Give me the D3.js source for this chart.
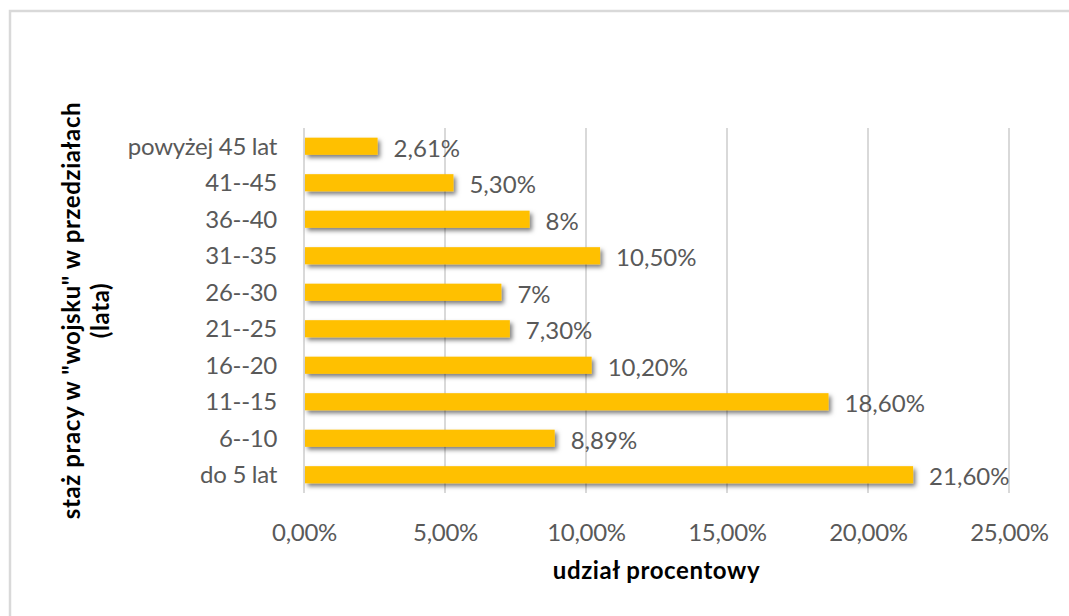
<!DOCTYPE html>
<html>
<head>
<meta charset="utf-8">
<script src="https://cdn.jsdelivr.net/npm/d3@7"></script>
<style>
  html, body { margin: 0; padding: 0; background: #fff; }
  svg { display: block; font-family: Lato, "Open Sans", sans-serif; }
</style>
</head>
<body>
<svg id="chart" width="1069" height="616"></svg>
<script>
// Seniority brackets (top to bottom) and their percentage share
const categories = ["powyżej 45 lat", "41--45", "36--40", "31--35", "26--30", "21--25", "16--20", "11--15", "6--10", "do 5 lat"];
const shares = [2.61, 5.30, 8, 10.50, 7, 7.30, 10.20, 18.60, 8.89, 21.60];
const xTicks = [0, 5, 10, 15, 20, 25];
const xTitle = "udział procentowy";
const yTitleLines = ["staż pracy w \"wojsku\" w przedziałach", "(lata)"];

const svg = d3.select("#chart");
const W = 1069, H = 616;
const plot = { left: 304, right: 1009, top: 128, bottom: 493 };

// Outer chart frame (extends past the right and bottom edges)
svg.append("rect")
  .attr("x", 10).attr("y", 11)
  .attr("width", W + 20).attr("height", H + 20)
  .attr("fill", "#fff")
  .attr("stroke", "#d9d9d9").attr("stroke-width", 2.5);

// Soft drop shadow under the bars
const defs = svg.append("defs");
const f = defs.append("filter").attr("id", "barShadow")
  .attr("x", "-10%").attr("y", "-40%").attr("width", "130%").attr("height", "200%");
f.append("feDropShadow")
  .attr("dx", 2.5).attr("dy", 3).attr("stdDeviation", 2.2)
  .attr("flood-color", "#000").attr("flood-opacity", 0.5);

const x = d3.scaleLinear().domain([0, 25]).range([plot.left, plot.right]);
const y = d3.scaleBand().domain(categories).range([plot.top, plot.bottom]).paddingInner(0.53).paddingOuter(0.265);

const pct = v => v.toFixed(2).replace(".", ",") + "%";
const valueLabel = v => (Number.isInteger(v) ? String(v) : v.toFixed(2).replace(".", ",")) + "%";

// Vertical gridlines
svg.append("g").selectAll("line").data(xTicks).join("line")
  .attr("x1", d => x(d)).attr("x2", d => x(d))
  .attr("y1", plot.top).attr("y2", plot.bottom)
  .attr("stroke", "#d9d9d9").attr("stroke-width", 2);

// X axis tick labels
const xAxis = d3.axisBottom(x).tickValues(xTicks).tickFormat(pct).tickSize(0).tickPadding(0);
const gx = svg.append("g").attr("transform", `translate(0, 541)`).call(xAxis);
gx.select(".domain").remove();
gx.selectAll("text")
  .attr("dy", 0)
  .attr("font-family", "Lato, sans-serif")
  .attr("font-size", 24).attr("letter-spacing", -0.3).attr("fill", "#595959");

// Y axis category labels
const yAxis = d3.axisLeft(y).tickSize(0).tickPadding(27);
const gy = svg.append("g").attr("transform", `translate(${plot.left}, 0)`).call(yAxis);
gy.select(".domain").remove();
gy.selectAll("text")
  .attr("font-family", "Lato, sans-serif")
  .attr("font-size", 24).attr("letter-spacing", -0.3).attr("fill", "#595959")
  .attr("dy", "0.35em");

// Bars
const data = categories.map((c, i) => ({ c, v: shares[i] }));
svg.append("g").selectAll("rect").data(data).join("rect")
  .attr("x", x(0) + 1)
  .attr("y", d => y(d.c))
  .attr("width", d => x(d.v) - x(0) - 1)
  .attr("height", y.bandwidth())
  .attr("fill", "#FFC000")
  .attr("filter", "url(#barShadow)");

// Value labels
svg.append("g").selectAll("text").data(data).join("text")
  .attr("x", d => x(d.v) + 16)
  .attr("y", d => y(d.c) + y.bandwidth() / 2 + 2)
  .attr("dy", "0.35em")
  .attr("font-size", 24).attr("fill", "#595959")
  .text(d => valueLabel(d.v));

// X axis title
svg.append("text")
  .attr("x", (plot.left + plot.right) / 2).attr("y", 579)
  .attr("text-anchor", "middle")
  .attr("font-size", 24).attr("letter-spacing", 0.6).attr("font-weight", "bold").attr("fill", "#000")
  .text(xTitle);

// Y axis title (two rotated lines)
const yt = svg.append("text")
  .attr("transform", `translate(80, ${(plot.top + plot.bottom) / 2}) rotate(-90)`)
  .attr("text-anchor", "middle")
  .attr("font-size", 24).attr("letter-spacing", 0.6).attr("font-weight", "bold").attr("fill", "#000");
yt.selectAll("tspan").data(yTitleLines).join("tspan")
  .attr("x", 0).attr("dy", (d, i) => i === 0 ? 0 : 29)
  .text(d => d);
</script>
</body>
</html>
